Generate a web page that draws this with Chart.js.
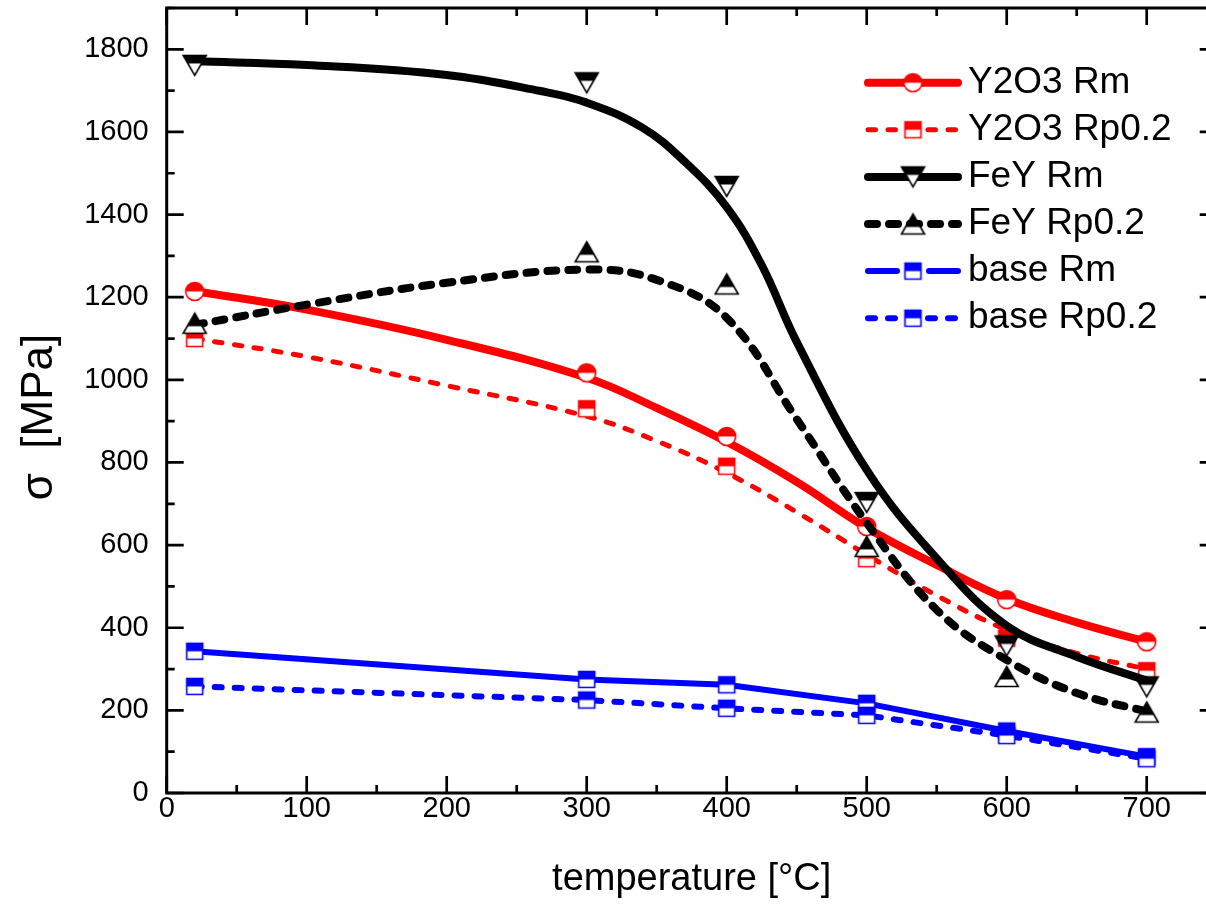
<!DOCTYPE html>
<html>
<head>
<meta charset="utf-8">
<script src="https://cdn.jsdelivr.net/npm/chart.js@4.4.0/dist/chart.umd.min.js"></script>
<style>
    html, body { margin: 0; padding: 0; background: #fff; overflow: hidden; }
    #wrap { width: 1230px; height: 906px; }
</style>
</head>
<body>
<div id="wrap"><canvas id="strengthChart" width="1230" height="906"></canvas></div>
<script>
// measured points
const temps = [20, 300, 400, 500, 600, 700];
const y2o3Rm = [1214, 1017, 863, 645, 468, 366];
const y2o3Rp = [1100, 930, 791, 567, 375, 296];
const feyRm = [1761, 1719, 1468, 703, 356, 257];
const feyRp = [1137, 1310, 1232, 597, 282, 196];
const baseRm = [343, 275, 262, 217, 150, 88];
const baseRp = [258, 225, 205, 188, 139, 83];

// fitted curves
const fitTemps = [20, 100, 200, 300, 350, 400, 450, 500, 550, 600, 650, 700];
const y2o3RmFit = [1215, 1170, 1097, 1005, 932, 850, 753, 642, 552, 470, 413, 366];
const y2o3RpFit = [1100, 1056, 986, 912, 852, 775, 680, 577, 478, 395, 338, 300];
const feyRpFit = [1133, 1182, 1235, 1267, 1242, 1150, 905, 654, 443, 322, 242, 197];
const feyRmFitTemps = [20, 100, 200, 267, 300, 340, 370, 400, 425, 450, 500, 550, 600, 650, 700];
const feyRmFit = [1771, 1762, 1738, 1699, 1671, 1610, 1528, 1418, 1278, 1092, 782, 568, 405, 330, 272];

const xTicks = [0, 100, 200, 300, 400, 500, 600, 700];
const yTicks = [0, 200, 400, 600, 800, 1000, 1200, 1400, 1600, 1800];

const FONT = '"Liberation Sans", Arial, sans-serif';
const RED = '#ff0000';
const BLUE = '#0000ff';
const BLACK = '#000000';

// half filled symbols (top part coloured, bottom white)
function makeMarker(shape, color) {
    const c = document.createElement('canvas');
    c.width = 27; c.height = 27;
    const ctx = c.getContext('2d');
    const m = 13.5;
    let fillTo;
    ctx.beginPath();
    if (shape == 'circle') {
        ctx.arc(m, m, 9, 0, Math.PI * 2);
        fillTo = m;
    } else if (shape == 'square') {
        ctx.rect(m - 8, m - 8, 16, 16);
        fillTo = m;
    } else if (shape == 'down') {
        ctx.moveTo(m - 11.5, m - 10);
        ctx.lineTo(m + 11.5, m - 10);
        ctx.lineTo(m, m + 10);
        ctx.closePath();
        fillTo = m - 2;
    } else {
        ctx.moveTo(m, m - 10);
        ctx.lineTo(m + 11.5, m + 10);
        ctx.lineTo(m - 11.5, m + 10);
        ctx.closePath();
        fillTo = m + 3;
    }
    ctx.fillStyle = '#fff';
    ctx.fill();
    ctx.save();
    ctx.clip();
    ctx.fillStyle = color;
    ctx.fillRect(0, 0, 27, fillTo);
    ctx.restore();
    ctx.lineWidth = 1.6;
    ctx.strokeStyle = color;
    ctx.stroke();
    return c;
}

const circleRed = makeMarker('circle', RED);
const squareRed = makeMarker('square', RED);
const triDown = makeMarker('down', BLACK);
const triUp = makeMarker('up', BLACK);
const squareBlue = makeMarker('square', BLUE);

function pts(xs, ys) {
    return xs.map((x, i) => ({ x: x, y: ys[i] }));
}

function curveSet(label, xs, ys, color, width, dash, order) {
    return {
        label: label,
        data: pts(xs, ys),
        borderColor: color,
        borderWidth: width,
        borderDash: dash,
        borderCapStyle: 'round',
        tension: 0.4,
        pointRadius: 0,
        fill: false,
        order: order
    };
}

function markerSet(label, ys, marker, order) {
    return {
        label: label,
        data: pts(temps, ys),
        showLine: false,
        pointStyle: marker,
        pointRadius: 10,
        order: order
    };
}

function polySet(label, ys, color, width, dash, marker, order) {
    return {
        label: label,
        data: pts(temps, ys),
        borderColor: color,
        borderWidth: width,
        borderDash: dash,
        borderCapStyle: 'round',
        tension: 0,
        pointStyle: marker,
        pointRadius: 10,
        fill: false,
        order: order
    };
}

// later series sit on top (lower order is drawn last)
const datasets = [
    curveSet('Y2O3 Rm', fitTemps, y2o3RmFit, RED, 8, [], 12),
    markerSet('Y2O3 Rm', y2o3Rm, circleRed, 11),
    curveSet('Y2O3 Rp0.2', fitTemps, y2o3RpFit, RED, 5, [7.5, 12.5], 10),
    markerSet('Y2O3 Rp0.2', y2o3Rp, squareRed, 9),
    curveSet('FeY Rm', feyRmFitTemps, feyRmFit, BLACK, 8, [], 8),
    markerSet('FeY Rm', feyRm, triDown, 7),
    curveSet('FeY Rp0.2', fitTemps, feyRpFit, BLACK, 8, [9, 12], 6),
    markerSet('FeY Rp0.2', feyRp, triUp, 5),
    polySet('base Rm', baseRm, BLUE, 6, [], squareBlue, 4),
    polySet('base Rp0.2', baseRp, BLUE, 6, [7, 13], squareBlue, 3)
];

const legendItems = [
    { label: 'Y2O3 Rm', color: RED, width: 8, dash: [], marker: circleRed },
    { label: 'Y2O3 Rp0.2', color: RED, width: 5, dash: [7.5, 12.5], marker: squareRed },
    { label: 'FeY Rm', color: BLACK, width: 8, dash: [], marker: triDown },
    { label: 'FeY Rp0.2', color: BLACK, width: 8, dash: [9, 12], marker: triUp },
    { label: 'base Rm', color: BLUE, width: 6, dash: [], marker: squareBlue, gap: true },
    { label: 'base Rp0.2', color: BLUE, width: 6, dash: [7, 13], marker: squareBlue }
];

// box frame with inward ticks on all four sides, plus the y title
const framePlugin = {
    id: 'frame',
    afterDraw(chart) {
        const { ctx, chartArea: a, scales: { x, y } } = chart;
        ctx.save();
        ctx.strokeStyle = '#000';
        ctx.lineWidth = 3;
        ctx.strokeRect(a.left, a.top, a.right - a.left, a.bottom - a.top);
        ctx.beginPath();
        for (let v = 0; v <= x.max; v += 50) {
            const px = x.getPixelForValue(v);
            const len = v % 100 == 0 ? 17 : 8;
            ctx.moveTo(px, a.bottom); ctx.lineTo(px, a.bottom - len);
            ctx.moveTo(px, a.top); ctx.lineTo(px, a.top + len);
        }
        for (let v = 0; v <= y.max; v += 100) {
            const py = y.getPixelForValue(v);
            const len = v % 200 == 0 ? 17 : 8;
            ctx.moveTo(a.left, py); ctx.lineTo(a.left + len, py);
            ctx.moveTo(a.right, py); ctx.lineTo(a.right - len, py);
        }
        ctx.lineWidth = 2.7;
        ctx.stroke();

        ctx.translate(40, 417);
        ctx.rotate(-Math.PI / 2);
        ctx.fillStyle = '#000';
        ctx.font = '44px ' + FONT;
        ctx.textAlign = 'center';
        ctx.textBaseline = 'middle';
        ctx.fillText('σ  [MPa]', 0, 0);
        ctx.restore();
    }
};

const legendPlugin = {
    id: 'lineLegend',
    afterDraw(chart) {
        const ctx = chart.ctx;
        const x0 = 868, x1 = 958, xm = 913;
        ctx.save();
        legendItems.forEach((item, i) => {
            const yy = 82.7 + i * 47.1;
            ctx.strokeStyle = item.color;
            ctx.lineWidth = item.width;
            ctx.lineCap = 'round';
            ctx.setLineDash(item.dash);
            ctx.beginPath();
            if (item.gap) {
                ctx.moveTo(x0, yy); ctx.lineTo(xm - 16, yy);
                ctx.moveTo(xm + 16, yy); ctx.lineTo(x1, yy);
            } else {
                ctx.moveTo(x0, yy); ctx.lineTo(x1, yy);
            }
            ctx.stroke();
            ctx.setLineDash([]);
            ctx.drawImage(item.marker, xm - 13.5, yy - 13.5);
            ctx.fillStyle = '#000';
            ctx.font = '37px ' + FONT;
            ctx.textBaseline = 'middle';
            ctx.textAlign = 'left';
            ctx.fillText(item.label, 968, yy);
        });
        ctx.restore();
    }
};

new Chart('strengthChart', {
    type: 'line',
    data: { datasets: datasets },
    options: {
        responsive: false,
        animation: false,
        layout: { autoPadding: false, padding: { top: 8, right: 13.3, left: 0, bottom: 0 } },
        plugins: {
            legend: { display: false },
            tooltip: { enabled: false }
        },
        scales: {
            x: {
                type: 'linear',
                min: 0,
                max: 750,
                afterBuildTicks: s => { s.ticks = xTicks.map(v => ({ value: v })); },
                afterFit: s => { s.height = 113; s.paddingLeft = 0; s.paddingRight = 0; },
                grid: { display: false, drawTicks: false },
                border: { display: false },
                ticks: {
                    color: '#000',
                    font: { family: FONT, size: 29, lineHeight: 1.1 },
                    padding: 0,
                    maxRotation: 0,
                    autoSkip: false,
                    callback: v => String(v)
                },
                title: {
                    display: true,
                    text: 'temperature [°C]',
                    color: '#000',
                    font: { family: FONT, size: 38 },
                    padding: { top: 0, bottom: 4 }
                }
            },
            y: {
                type: 'linear',
                min: 0,
                max: 1900,
                afterBuildTicks: s => { s.ticks = yTicks.map(v => ({ value: v })); },
                afterFit: s => { s.width = 166.7; s.paddingTop = 0; s.paddingBottom = 0; },
                grid: { display: false, drawTicks: false },
                border: { display: false },
                ticks: {
                    color: '#000',
                    font: { family: FONT, size: 29 },
                    padding: 18,
                    autoSkip: false,
                    callback: v => String(v)
                }
            }
        }
    },
    plugins: [framePlugin, legendPlugin]
});
</script>
</body>
</html>
